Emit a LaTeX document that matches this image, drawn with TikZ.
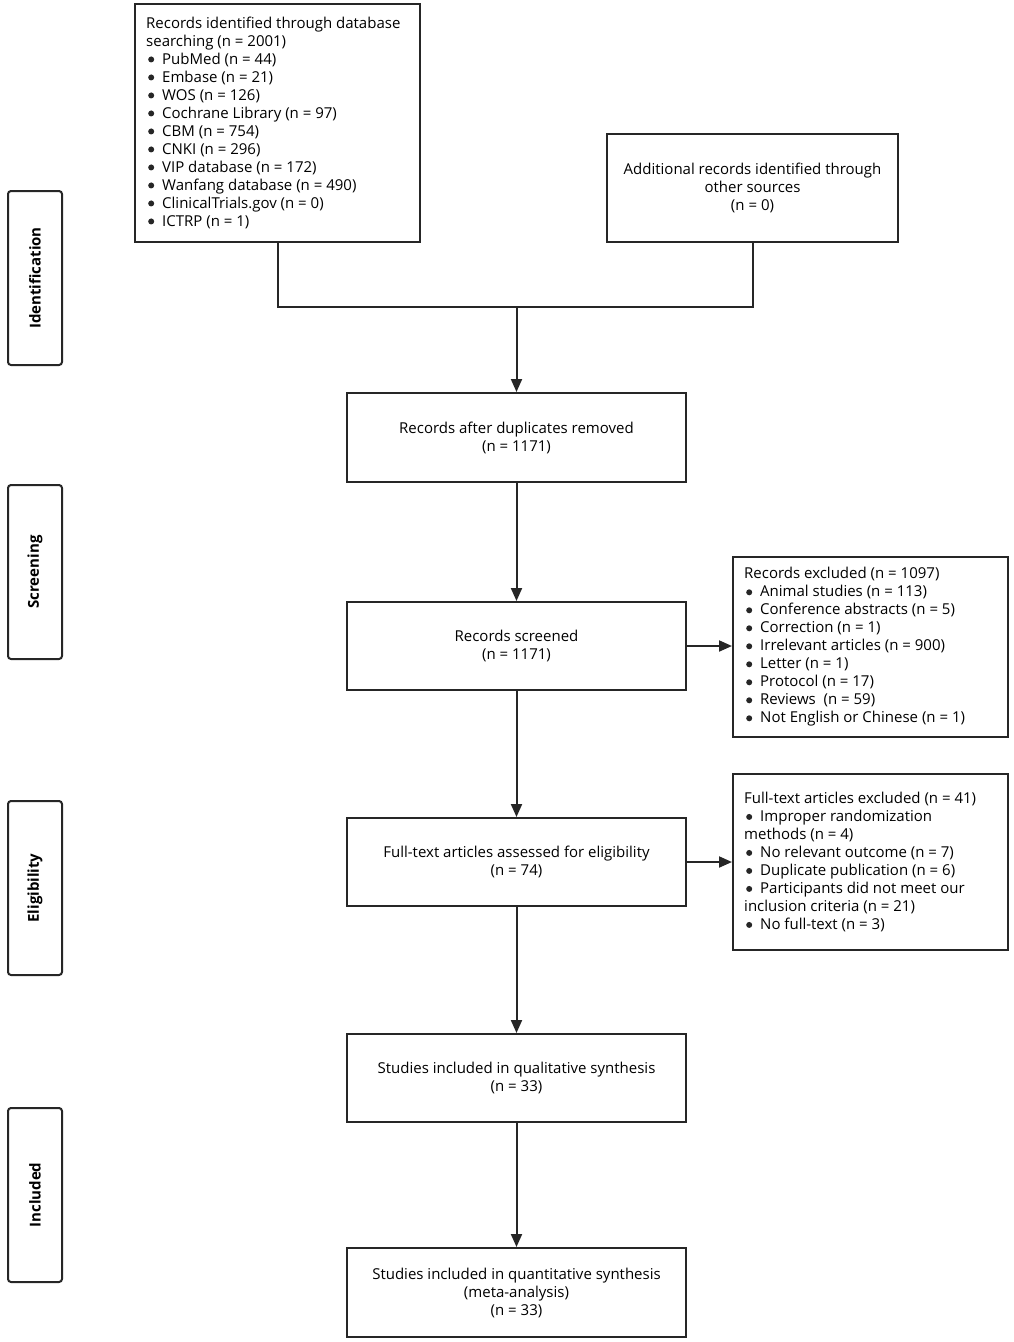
\documentclass[tikz,border=0pt]{standalone}
\usepackage{fontspec}
\setmainfont{Open Sans}
\usetikzlibrary{arrows.meta}
\newcommand\bul{\hspace{2pt}\raisebox{1.6pt}{\tikz\fill[black!85] (0pt,0pt) circle (3pt);}\hspace{8pt}}
\begin{document}
\begin{tikzpicture}[x=1pt,y=-1pt,
  box/.style={draw=black!85,line width=2pt,rectangle,inner sep=0pt},
  side/.style={draw=black!85,line width=2pt,rounded corners=3pt,minimum width=54pt,minimum height=174pt,inner sep=0pt},
  txt/.style={font=\fontsize{15}{18}\selectfont,align=left,inner sep=0pt,anchor=west},
  ctxt/.style={font=\fontsize{15}{18}\selectfont,align=center,inner sep=0pt},
  lbl/.style={font=\fontsize{15}{16}\selectfont\bfseries,rotate=90},
  conn/.style={line width=2pt,draw=black!85},
  arr/.style={conn,-{Triangle[length=13pt,width=11pt]}}]
\useasboundingbox (0,0) rectangle (1013,1342);
% side labels
\node[side] (sid) at (35,278) {};
\node[lbl] at (sid) {Identification};
\node[side] (ssc) at (35,572) {};
\node[lbl] at (ssc) {Screening};
\node[side] (sel) at (35,888) {};
\node[lbl] at (sel) {Eligibility};
\node[side] (sin) at (35,1195) {};
\node[lbl] at (sin) {Included};
% boxes
\node[box,minimum width=285pt,minimum height=238pt] (db) at (277.5,122.5) {};
\node[txt] at ([xshift=12pt]db.west) {Records identified through database\\searching (n = 2001)\\
\bul PubMed (n = 44)\\
\bul Embase (n = 21)\\
\bul WOS (n = 126)\\
\bul Cochrane Library (n = 97)\\
\bul CBM (n = 754)\\
\bul CNKI (n = 296)\\
\bul VIP database (n = 172)\\
\bul Wanfang database (n = 490)\\
\bul ClinicalTrials.gov (n = 0)\\
\bul ICTRP (n = 1)};
\node[box,minimum width=291pt,minimum height=108pt] (oth) at (752.5,187.5) {};
\node[ctxt] at (oth) {Additional records identified through\\other sources\\(n = 0)};
\node[box,minimum width=339pt,minimum height=89pt] (dup) at (516.5,437.5) {};
\node[ctxt] at (dup) {Records after duplicates removed\\(n = 1171)};
\node[box,minimum width=339pt,minimum height=88pt] (scr) at (516.5,646) {};
\node[ctxt] at (scr) {Records screened\\(n = 1171)};
\node[box,minimum width=275pt,minimum height=180pt] (exc) at (870.5,647) {};
\node[txt] at ([xshift=12pt]exc.west) {Records excluded (n = 1097)\\
\bul Animal studies (n = 113)\\
\bul Conference abstracts (n = 5)\\
\bul Correction (n = 1)\\
\bul Irrelevant articles (n = 900)\\
\bul Letter (n = 1)\\
\bul Protocol (n = 17)\\
\bul Reviews\ \ (n = 59)\\
\bul Not English or Chinese (n = 1)};
\node[box,minimum width=339pt,minimum height=88pt] (ful) at (516.5,862) {};
\node[ctxt] at (ful) {Full-text articles assessed for eligibility\\(n = 74)};
\node[box,minimum width=275pt,minimum height=176pt] (fex) at (870.5,862) {};
\node[txt] at ([xshift=12pt]fex.west) {Full-text articles excluded (n = 41)\\
\bul Improper randomization\\methods (n = 4)\\
\bul No relevant outcome (n = 7)\\
\bul Duplicate publication (n = 6)\\
\bul Participants did not meet our\\inclusion criteria (n = 21)\\
\bul No full-text (n = 3)};
\node[box,minimum width=339pt,minimum height=88pt] (qua) at (516.5,1078) {};
\node[ctxt] at (qua) {Studies included in qualitative synthesis\\(n = 33)};
\node[box,minimum width=339pt,minimum height=89pt] (qnt) at (516.5,1292.5) {};
\node[ctxt] at (qnt) {Studies included in quantitative synthesis\\(meta-analysis)\\(n = 33)};
% connectors
\coordinate (jl) at (db.south |- 0,307);
\coordinate (jr) at (oth.south |- 0,307);
\coordinate (jm) at (dup.north |- 0,307);
\draw[conn] (db.south) -- (jl) -- (jr) -- (oth.south);
\draw[arr] (jm) -- (dup.north);
\draw[arr] (dup) -- (scr);
\draw[arr] (scr.east) -- (scr.east -| exc.west);
\draw[arr] (scr) -- (ful);
\draw[arr] (ful.east) -- (ful.east -| fex.west);
\draw[arr] (ful) -- (qua);
\draw[arr] (qua) -- (qnt);
\end{tikzpicture}
\end{document}
